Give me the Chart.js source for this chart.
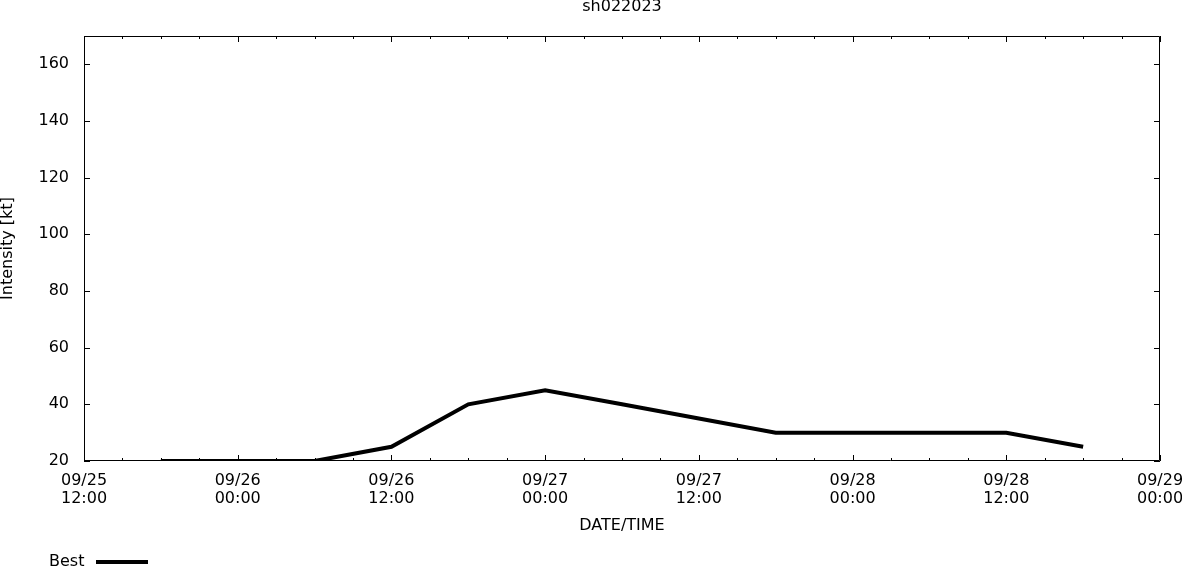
<!DOCTYPE html>
<html>
<head>
<meta charset="utf-8">
<script src="https://cdn.jsdelivr.net/npm/chart.js@4"></script>
<style>
  html, body { margin: 0; padding: 0; background: #fff; }
  #wrap { width: 1182px; height: 567px; }
</style>
</head>
<body>
<div id="wrap"><canvas id="chart" width="1182" height="567"></canvas></div>
<script>
// storm name + best track (6-hourly)
const stormName = "sh022023";
const times = [
  "2023-09-25 18:00", "2023-09-26 00:00", "2023-09-26 06:00", "2023-09-26 12:00",
  "2023-09-26 18:00", "2023-09-27 00:00", "2023-09-27 06:00", "2023-09-27 12:00",
  "2023-09-27 18:00", "2023-09-28 00:00", "2023-09-28 06:00", "2023-09-28 12:00",
  "2023-09-28 18:00"
];
const intensity = [20, 20, 20, 25, 40, 45, 40, 35, 30, 30, 30, 30, 25];
const seriesName = "Best";

// axis range
const startTime = "2023-09-25 12:00";
const endTime = "2023-09-29 00:00";
const yTicks = [20, 40, 60, 80, 100, 120, 140, 160];
const yMin = 20, yMax = 170;

const FONT = "DejaVu Sans";
const FS = 16;

function toMs(s) {
  const [d, t] = s.split(" ");
  const [Y, M, D] = d.split("-").map(Number);
  const [h, m] = t.split(":").map(Number);
  return Date.UTC(Y, M - 1, D, h, m);
}
const t0 = toMs(startTime);
const hrs = s => (toMs(s) - t0) / 3600000;
const xMax = hrs(endTime);

function fmtLabel(h) {
  const dt = new Date(t0 + h * 3600000);
  const p = n => String(n).padStart(2, "0");
  return [p(dt.getUTCMonth() + 1) + "/" + p(dt.getUTCDate()), p(dt.getUTCHours()) + ":" + p(dt.getUTCMinutes())];
}

// gnuplot-ish frame: border + inward ticks on all sides, title, axis titles, key
const framePlugin = {
  id: "frame",
  afterDraw(chart) {
    const ctx = chart.ctx;
    const a = chart.chartArea;
    const xs = chart.scales.x, ys = chart.scales.y;
    ctx.save();
    ctx.strokeStyle = "#000";
    ctx.lineWidth = 1;
    ctx.beginPath();
    ctx.rect(a.left + 0.5, a.top + 0.5, a.right - a.left - 1, a.bottom - a.top - 1);
    ctx.stroke();

    ctx.beginPath();
    for (let h = 0; h <= xMax; h += 3) {
      const x = Math.round(xs.getPixelForValue(h)) + 0.5;
      const len = h % 12 === 0 ? 6 : 3;
      ctx.moveTo(x, a.bottom); ctx.lineTo(x, a.bottom - len);
      ctx.moveTo(x, a.top); ctx.lineTo(x, a.top + len);
    }
    yTicks.forEach(v => {
      const y = Math.round(ys.getPixelForValue(v)) + 0.5;
      ctx.moveTo(a.left, y); ctx.lineTo(a.left + 6, y);
      ctx.moveTo(a.right, y); ctx.lineTo(a.right - 6, y);
    });
    ctx.stroke();

    ctx.fillStyle = "#000";
    ctx.font = FS + "px '" + FONT + "'";
    ctx.textAlign = "center";
    ctx.textBaseline = "middle";
    ctx.fillText(stormName, (a.left + a.right) / 2, 7);
    ctx.fillText("DATE/TIME", (a.left + a.right) / 2, 526);

    ctx.save();
    ctx.translate(8, (a.top + a.bottom) / 2);
    ctx.rotate(-Math.PI / 2);
    ctx.fillText("Intensity [kt]", 0, 0);
    ctx.restore();

    // key
    ctx.textAlign = "left";
    ctx.fillText(seriesName, 49, 562);
    ctx.lineWidth = 4;
    ctx.beginPath();
    ctx.moveTo(96, 562); ctx.lineTo(148, 562);
    ctx.stroke();
    ctx.restore();
  }
};

new Chart(document.getElementById("chart"), {
  type: "line",
  data: {
    datasets: [{
      label: seriesName,
      data: times.map((t, i) => ({ x: hrs(t), y: intensity[i] })),
      borderColor: "#000",
      borderWidth: 4,
      pointRadius: 0,
      tension: 0,
      fill: false
    }]
  },
  options: {
    responsive: false,
    animation: false,
    layout: { padding: { top: 36, right: 22, left: 0, bottom: 0 } },
    plugins: { legend: { display: false }, tooltip: { enabled: false } },
    scales: {
      x: {
        type: "linear",
        min: 0,
        max: xMax,
        grid: { display: false, drawTicks: false },
        border: { display: false },
        afterBuildTicks: s => { s.ticks = s.ticks.filter(t => t.value % 12 === 0); },
        afterFit: s => { s.height = 106; s.paddingLeft = 0; s.paddingRight = 0; },
        ticks: {
          stepSize: 12,
          maxRotation: 0,
          autoSkip: false,
          padding: 11,
          color: "#000",
          font: { family: FONT, size: FS, lineHeight: 1.125 },
          callback: v => fmtLabel(v)
        }
      },
      y: {
        min: yMin,
        max: yMax,
        grid: { display: false, drawTicks: false },
        border: { display: false },
        afterBuildTicks: s => { s.ticks = yTicks.map(v => ({ value: v })); },
        afterFit: s => { s.width = 84; s.paddingTop = 0; s.paddingBottom = 0; },
        ticks: {
          padding: 15,
          color: "#000",
          font: { family: FONT, size: FS }
        }
      }
    }
  },
  plugins: [framePlugin]
});
</script>
</body>
</html>
